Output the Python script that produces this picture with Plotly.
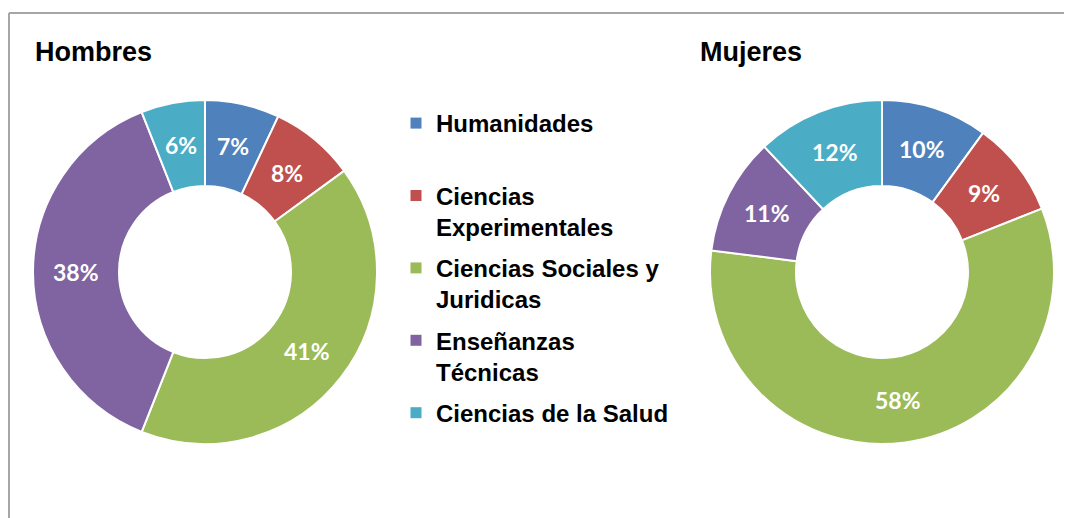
import math
import plotly.graph_objects as go

categories = ["Humanidades", "Ciencias Experimentales", "Ciencias Sociales y Juridicas",
              "Enseñanzas Técnicas", "Ciencias de la Salud"]
legend_labels = ["Humanidades<br> ", "Ciencias<br>Experimentales", "Ciencias Sociales y<br>Juridicas",
                 "Enseñanzas<br>Técnicas", "Ciencias de la Salud"]
hombres = [7, 8, 41, 38, 6]
mujeres = [10, 9, 58, 11, 12]
colors = ["#4F81BD", "#C0504D", "#9BBB59", "#8064A2", "#4BACC6"]

# page body has an 8px margin; figure drawn in its own coordinates
OFF = 8
W, H = 1072 - OFF, 518 - OFF
HOLE = 0.5

def px(x):
    return (x - OFF) / W

def py(y):
    return 1 - (y - OFF) / H

def dom(x0, x1, y0, y1):
    return dict(x=[px(x0), px(x1)], y=[py(y1), py(y0)])

common = dict(
    labels=categories, hole=HOLE, sort=False, direction="clockwise", rotation=0,
    marker=dict(colors=colors, line=dict(color="white", width=2)),
    textinfo="none", hoverinfo="label+value", showlegend=False,
)

fig = go.Figure()
pies = [("Hombres", hombres, (33, 377, 100, 444)), ("Mujeres", mujeres, (710, 1054, 100, 444))]
for name, vals, (x0, x1, y0, y1) in pies:
    fig.add_trace(go.Pie(values=vals, name=name, domain=dom(x0, x1, y0, y1), **common))
    # percentage labels placed in the middle of the ring, along each slice's bisector
    cx, cy = (x0 + x1) / 2, (y0 + y1) / 2
    r_out = min(x1 - x0, y1 - y0) / 2
    r_mid = r_out * (1 + HOLE) / 2
    total = sum(vals)
    cum = 0
    for v in vals:
        ang = 2 * math.pi * (cum + v / 2) / total
        cum += v
        fig.add_annotation(text=f"{v}%", x=px(cx + r_mid * math.sin(ang)), y=py(cy - r_mid * math.cos(ang)),
                           xref="paper", yref="paper", showarrow=False, xanchor="center", yanchor="middle",
                           font=dict(family="Lato", size=23, color="white", weight="bold"))

# legend entries (one group each so the spacing between them can be set)
for lab, leg, col in zip(categories, legend_labels, colors):
    fig.add_trace(go.Scatter(x=[None], y=[None], mode="markers", name=leg, legendgroup=lab,
                             marker=dict(symbol="square", size=11, color=col), hoverinfo="skip"))

fig.add_annotation(text="Hombres", x=px(33), y=py(52), xref="paper", yref="paper",
                   xanchor="left", yanchor="middle", showarrow=False,
                   font=dict(family="Liberation Sans", size=27, color="black", weight="bold"))
fig.add_annotation(text="Mujeres", x=px(698), y=py(52), xref="paper", yref="paper",
                   xanchor="left", yanchor="middle", showarrow=False,
                   font=dict(family="Liberation Sans", size=27, color="black", weight="bold"))

fig.add_shape(type="line", xref="paper", yref="paper", x0=px(9), x1=1.01, y0=py(13), y1=py(13),
              line=dict(color="#A6A6A6", width=2))
fig.add_shape(type="line", xref="paper", yref="paper", x0=px(9), x1=px(9), y0=-0.02, y1=py(13),
              line=dict(color="#A6A6A6", width=2))

fig.update_layout(
    width=W, height=H, margin=dict(l=0, r=0, t=0, b=0),
    paper_bgcolor="white", plot_bgcolor="white",
    xaxis=dict(visible=False), yaxis=dict(visible=False),
    showlegend=True,
    legend=dict(x=px(396), y=py(101), xanchor="left", yanchor="top", valign="top",
                tracegroupgap=7, traceorder="grouped",
                font=dict(family="Liberation Sans", size=24, color="black", weight="bold"),
                bgcolor="rgba(0,0,0,0)", itemclick=False, itemdoubleclick=False),
)

fig.write_html("out.html")
